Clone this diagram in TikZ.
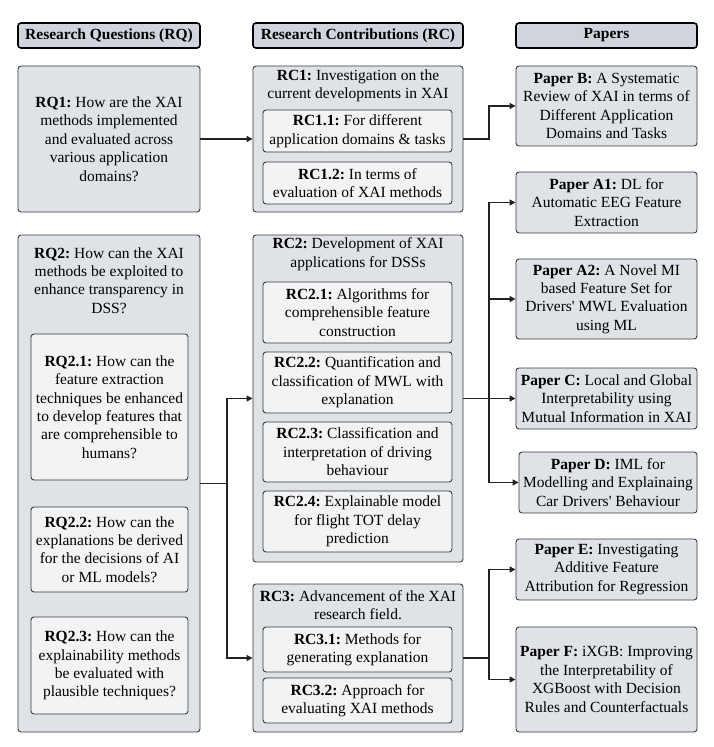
\documentclass[tikz,border=0pt]{standalone}
\usepackage{fontspec}
\setmainfont{Liberation Serif}
\usetikzlibrary{arrows.meta}
\definecolor{hdrfill}{HTML}{D0D5DD}
\definecolor{outerfill}{HTML}{DFE2E7}
\definecolor{innerfill}{HTML}{F2F3F5}
\definecolor{edgecol}{HTML}{3A3A3A}
\definecolor{wirecol}{HTML}{222222}
\newcommand{\txtsize}{\fontsize{15.5}{18.4}\selectfont\frenchspacing}
\newcommand{\mkbox}[7]{\node[#1, minimum width={(#5-#3)*1pt}, minimum height={(#6-#4)*1pt}] (#2) at ({(#3+#5)/2},{(#4+#6)/2}) {#7};}
\tikzset{
 hdr/.style={draw=black, line width=1.6pt, fill=hdrfill, rounded corners=3pt, inner sep=0pt, font=\bfseries\txtsize},
 outerbox/.style={draw=edgecol, line width=0.9pt, fill=outerfill, rounded corners=3pt, inner sep=0pt},
 innerbox/.style={draw=edgecol, line width=0.9pt, fill=innerfill, rounded corners=3pt, inner sep=0pt, align=center, font=\txtsize},
 paperbox/.style={outerbox, align=center, font=\txtsize},
 titletext/.style={align=center, font=\txtsize, inner sep=0pt},
 wirel/.style={draw=wirecol, line width=1.3pt},
 arr/.style={wirel, -{Triangle[length=6pt,width=6pt]}},
}
\begin{document}
\begin{tikzpicture}[x=1pt,y=-1pt]
\useasboundingbox (0,0) rectangle (714,747);
% headers
\mkbox{hdr}{hq}{18}{23}{200}{48}{Research Questions (RQ)}
\mkbox{hdr}{hc}{253}{23}{463}{48}{Research Contributions (RC)}
\mkbox{hdr}{hp}{516}{23}{697}{48}{Papers}
% RQ column
\mkbox{paperbox}{rq1}{18}{66}{200}{212}{\textbf{RQ1:} How are the XAI\\methods implemented\\and evaluated across\\various application\\domains?}
\mkbox{outerbox}{rq2}{18}{235}{200}{732}{}
\node[titletext] (rq2t) at (109,280.5) {\textbf{RQ2:} How can the XAI\\methods be exploited to\\enhance transparency in\\DSS?};
\mkbox{innerbox}{rq21}{31}{334}{188}{480}{\textbf{RQ2.1:} How can the\\feature extraction\\techniques be enhanced\\to develop features that\\are comprehensible to\\humans?}
\mkbox{innerbox}{rq22}{31}{507}{188}{592}{\textbf{RQ2.2:} How can the\\explanations be derived\\for the decisions of AI\\or ML models?}
\mkbox{innerbox}{rq23}{31}{617}{188}{714}{\textbf{RQ2.3:} How can the\\explainability methods\\be evaluated with\\plausible techniques?}
% RC column
\mkbox{outerbox}{rc1}{253}{66}{463}{212}{}
\node[titletext] (rc1t) at (358,86) {\textbf{RC1:} Investigation on the\\current developments in XAI};
\mkbox{innerbox}{rc11}{263}{110}{452}{152}{\textbf{RC1.1:} For different\\application domains \& tasks}
\mkbox{innerbox}{rc12}{263}{162}{452}{204}{\textbf{RC1.2:} In terms of\\evaluation of XAI methods}
\mkbox{outerbox}{rc2}{253}{235}{463}{562}{}
\node[titletext] (rc2t) at (358,254) {\textbf{RC2:} Development of XAI\\applications for DSSs};
\mkbox{innerbox}{rc21}{263}{282}{452}{343}{\textbf{RC2.1:} Algorithms for\\comprehensible feature\\construction}
\mkbox{innerbox}{rc22}{263}{352}{452}{413}{\textbf{RC2.2:} Quantification and\\classification of MWL with\\explanation}
\mkbox{innerbox}{rc23}{263}{422}{452}{482}{\textbf{RC2.3:} Classification and\\interpretation of driving\\behaviour}
\mkbox{innerbox}{rc24}{263}{491}{452}{552}{\textbf{RC2.4:} Explainable model\\for flight TOT delay\\prediction}
\mkbox{outerbox}{rc3}{253}{584}{463}{732}{}
\node[titletext] (rc3t) at (358,605) {\textbf{RC3:} Advancement of the XAI\\research field.};
\mkbox{innerbox}{rc31}{263}{627}{452}{672}{\textbf{RC3.1:} Methods for\\generating explanation}
\mkbox{innerbox}{rc32}{263}{678}{452}{723}{\textbf{RC3.2:} Approach for\\evaluating XAI methods}
% Papers column
\mkbox{paperbox}{pb}{516}{66}{697}{146}{\textbf{Paper B:} A Systematic\\Review of XAI in terms of\\Different Application\\Domains and Tasks}
\mkbox{paperbox}{pa1}{516}{172}{697}{233}{\textbf{Paper A1:} DL for\\Automatic EEG Feature\\Extraction}
\mkbox{paperbox}{pa2}{516}{259}{697}{339}{\textbf{Paper A2:} A Novel MI\\based Feature Set for\\Drivers\textquotesingle{} MWL Evaluation\\using ML}
\mkbox{paperbox}{pc}{516}{368}{697}{429}{\textbf{Paper C:} Local and Global\\Interpretability using\\Mutual Information in XAI}
\mkbox{paperbox}{pd}{519}{452}{697}{513}{\textbf{Paper D:} IML for\\Modelling and Explainaing\\Car Drivers\textquotesingle{} Behaviour}
\mkbox{paperbox}{pe}{516}{539}{697}{600}{\textbf{Paper E:} Investigating\\Additive Feature\\Attribution for Regression}
\mkbox{paperbox}{pf}{516}{627}{697}{732}{\textbf{Paper F:} iXGB: Improving\\the Interpretability of\\XGBoost with Decision\\Rules and Counterfactuals}
% connectors
\coordinate (jlx) at (227,0);
\coordinate (jmx) at (489,0);
\draw[arr] (rq1.east) -- (rc1.west);
\draw[arr] (rc1.east) -- (rc1.east -| jmx) |- (pb.west);
\draw[wirel] (rq2.east) -- (rq2.east -| jlx);
\draw[arr] (rq2.east -| jlx) |- (rc2.west);
\draw[arr] (rq2.east -| jlx) |- (rc3.west);
\draw[arr] (rc2.east) -- (pc.west);
\draw[arr] (rc2.east -| jmx) |- (pa1.west);
\draw[arr] (rc2.east -| jmx) |- (pa2.west);
\draw[arr] (rc2.east -| jmx) |- (pd.west);
\draw[wirel] (rc3.east) -- (rc3.east -| jmx);
\draw[arr] (rc3.east -| jmx) |- (pe.west);
\draw[arr] (rc3.east -| jmx) |- (pf.west);
\end{tikzpicture}
\end{document}
